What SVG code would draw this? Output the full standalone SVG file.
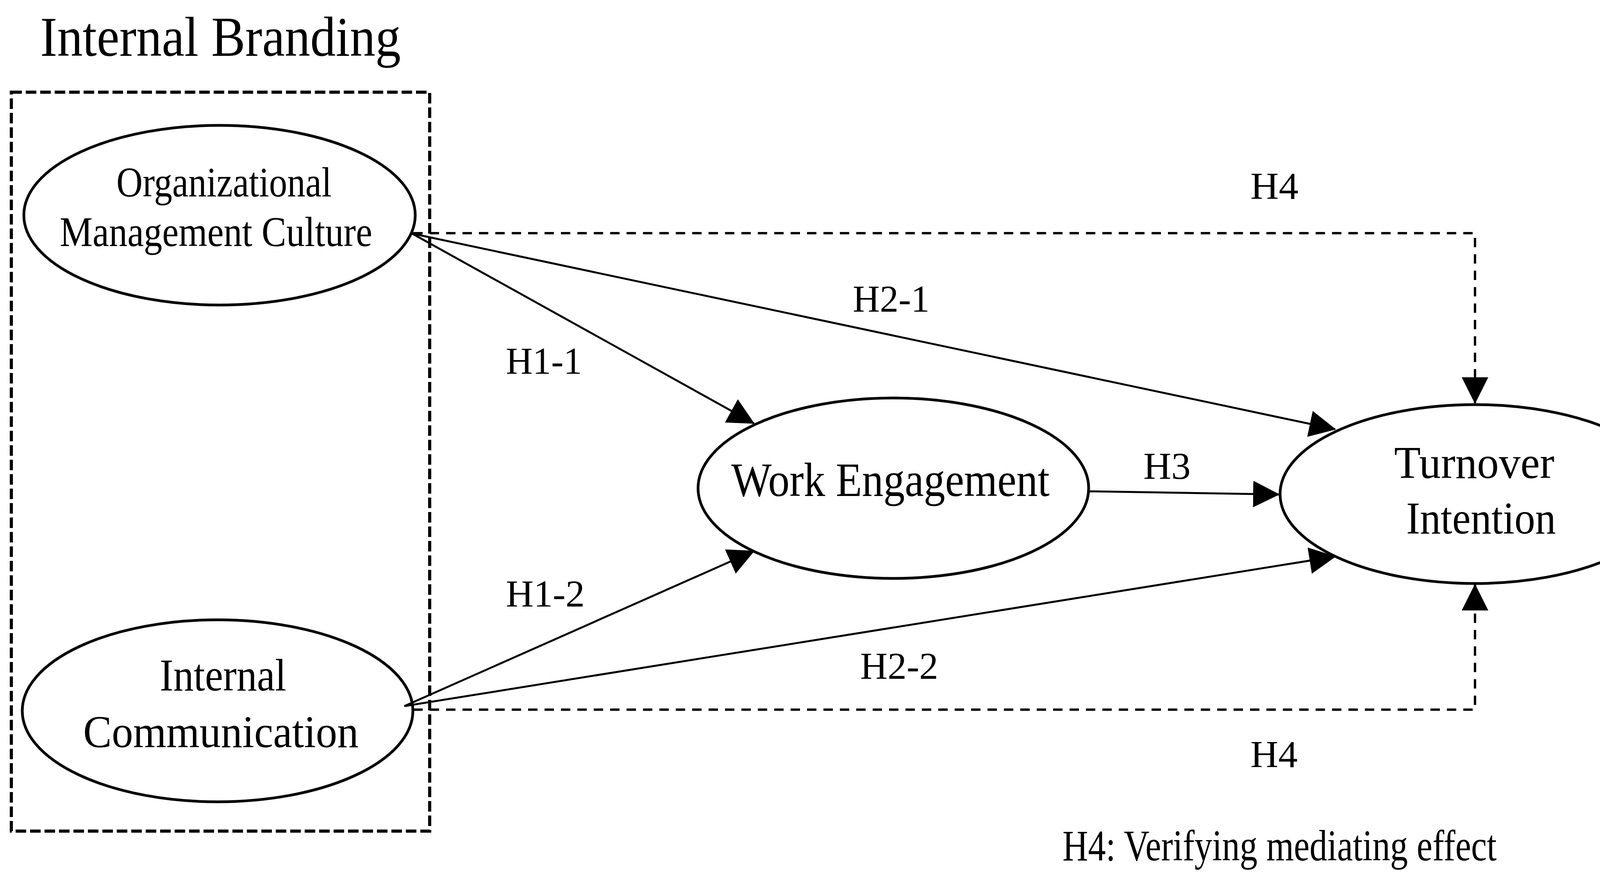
<svg xmlns="http://www.w3.org/2000/svg" width="4301" height="2266" viewBox="0 0 4301 2266">
  <style>
    .node { fill: none; stroke: #000; stroke-width: 7; }
    .txt { font-family: "Liberation Serif", "Times New Roman", serif; fill: #000; }
    .lbl { font-size: 97px; }
    .solid { fill: none; stroke: #000; stroke-width: 5; }
    .dash { fill: none; stroke: #000; stroke-width: 6; stroke-dasharray: 24 18; }
    .group { fill: none; stroke: #000; stroke-width: 8; stroke-dasharray: 27 10; }
  </style>
  <defs>
    <marker id="arrow" markerUnits="userSpaceOnUse" markerWidth="68" markerHeight="68" refX="66" refY="34" orient="auto" viewBox="0 0 68 68">
      <path d="M0,0 L68,34 L0,68 Z" fill="#000" stroke="none"/>
    </marker>
  </defs>
  <rect x="0" y="0" width="4301" height="2266" fill="#fff"/>

  <g id="internal-branding">
    <text class="txt" x="103" y="143" font-size="145" textLength="923" lengthAdjust="spacingAndGlyphs">Internal Branding</text>
    <rect class="group" x="29" y="236" width="1071" height="1892"/>
  </g>

  <g id="node-omc">
    <ellipse class="node" cx="562" cy="551" rx="501" ry="230"/>
    <text class="txt" x="298" y="503" font-size="107" textLength="551" lengthAdjust="spacingAndGlyphs">Organizational</text>
    <text class="txt" x="153" y="630" font-size="107" textLength="800" lengthAdjust="spacingAndGlyphs">Management Culture</text>
  </g>

  <g id="node-ic">
    <ellipse class="node" cx="557" cy="1820" rx="500" ry="233"/>
    <text class="txt" x="409" y="1768" font-size="116" textLength="324" lengthAdjust="spacingAndGlyphs">Internal</text>
    <text class="txt" x="213" y="1913" font-size="116" textLength="705" lengthAdjust="spacingAndGlyphs">Communication</text>
  </g>

  <g id="node-we">
    <ellipse class="node" cx="2287" cy="1250" rx="500" ry="231"/>
    <text class="txt" x="1872" y="1270" font-size="122" textLength="815" lengthAdjust="spacingAndGlyphs">Work Engagement</text>
  </g>

  <g id="node-ti">
    <ellipse class="node" cx="3776" cy="1265" rx="499" ry="229"/>
    <text class="txt" x="3569" y="1224" font-size="116" textLength="410" lengthAdjust="spacingAndGlyphs">Turnover</text>
    <text class="txt" x="3600" y="1366" font-size="116" textLength="383" lengthAdjust="spacingAndGlyphs">Intention</text>
  </g>

  <g id="connectors">
    <line class="solid" x1="1055" y1="598" x2="1930" y2="1084" marker-end="url(#arrow)"/>
    <line class="solid" x1="1055" y1="598" x2="3418" y2="1099" marker-end="url(#arrow)"/>
    <line class="solid" x1="1035" y1="1808" x2="1930" y2="1411" marker-end="url(#arrow)"/>
    <line class="solid" x1="1035" y1="1808" x2="3418" y2="1425" marker-end="url(#arrow)"/>
    <line class="solid" x1="2787" y1="1258" x2="3274" y2="1266" marker-end="url(#arrow)"/>
    <path class="dash" d="M1058,597 H3776 V1032" marker-end="url(#arrow)"/>
    <path class="dash" d="M1058,1817 H3776 V1497" marker-end="url(#arrow)"/>
  </g>

  <g id="labels">
    <text class="txt lbl" x="1295" y="957" textLength="195" lengthAdjust="spacingAndGlyphs">H1-1</text>
    <text class="txt lbl" x="1295" y="1553" textLength="202" lengthAdjust="spacingAndGlyphs">H1-2</text>
    <text class="txt lbl" x="2183" y="798" textLength="197" lengthAdjust="spacingAndGlyphs">H2-1</text>
    <text class="txt lbl" x="2202" y="1738" textLength="200" lengthAdjust="spacingAndGlyphs">H2-2</text>
    <text class="txt lbl" x="2927" y="1226" textLength="121" lengthAdjust="spacingAndGlyphs">H3</text>
    <text class="txt lbl" x="3201" y="509" textLength="123" lengthAdjust="spacingAndGlyphs">H4</text>
    <text class="txt lbl" x="3201" y="1964" textLength="121" lengthAdjust="spacingAndGlyphs">H4</text>
    <text class="txt" x="0" y="0" font-size="113" transform="translate(2720,2203) scale(0.802,1)">H4: Verifying mediating effect</text>
  </g>
</svg>
